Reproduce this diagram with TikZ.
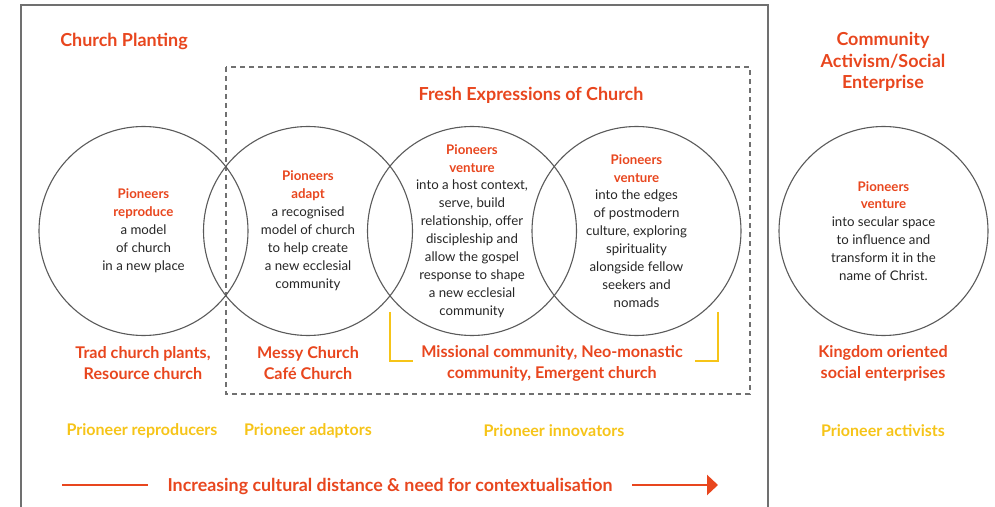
\documentclass[tikz,border=0pt]{standalone}
\usepackage{fontspec}
\setmainfont{Lato}
\usetikzlibrary{arrows.meta, calc}
\definecolor{pioneerred}{HTML}{E8461E}
\definecolor{pioneeryellow}{HTML}{F6C418}
\definecolor{framegray}{HTML}{707070}
\definecolor{circlegray}{HTML}{5A5A5A}
\newcommand{\pio}[1]{\textcolor{pioneerred}{\bfseries #1}}
\tikzset{
  venn/.style={draw=circlegray, line width=1.1bp, circle, minimum size=209bp, inner sep=0pt,
      align=center, font=\fontsize{13.3}{18}\selectfont, text=black!85},
  heading/.style={align=center, font=\fontsize{18}{21.5}\selectfont\bfseries, text=pioneerred},
  example/.style={align=center, font=\fontsize{16.2}{21}\selectfont\bfseries, text=pioneerred},
  role/.style={font=\fontsize{16.1}{17}\selectfont\bfseries, text=pioneeryellow},
  bracket/.style={draw=pioneeryellow, line width=2.5bp},
  distline/.style={draw=pioneerred, line width=2.5bp},
  frame/.style={draw=framegray, line width=1.5bp},
  fresh box/.style={draw=framegray, line width=1.1bp, dash pattern=on 5bp off 4bp},
}

\begin{document}
\begin{tikzpicture}[x=1bp, y=-1bp]
  \useasboundingbox (0,0) rectangle (995,507);
  % frames
  \draw[frame] (21,507) -- (21,5) -- (768,5) -- (768,507);
  \draw[fresh box] (226,67) rectangle (750,394);
  % headings
  \node[heading] (planting) at (124,41) {Church Planting};
  \node[heading] (fresh) at (531,95) {Fresh Expressions of Church};
  \node[heading] (activism) at (883,62) {Community\\Activism/Social\\Enterprise};
  % circles
  \node[venn] (reproduce) at (143.5,231) {\pio{Pioneers}\\\pio{reproduce}\\a model\\of church\\in a new place};
  \node[venn] (adapt) at (308,231) {\pio{Pioneers}\\\pio{adapt}\\a recognised\\model of church\\to help create\\a new ecclesial\\community};
  \node[venn] (host) at (472,231) {\pio{Pioneers}\\\pio{venture}\\into a host context,\\serve, build\\relationship, offer\\discipleship and\\allow the gospel\\response to shape\\a new ecclesial\\community};
  \node[venn] (edges) at (636.5,231) {\pio{Pioneers}\\\pio{venture}\\into the edges\\of postmodern\\culture, exploring\\spirituality\\alongside fellow\\seekers and\\nomads};
  \node[venn] (secular) at (883.5,231) {\pio{Pioneers}\\\pio{venture}\\into secular space\\to influence and\\transform it in the\\name of Christ.};
  % examples
  \node[example] (trad) at (143,363.5) {Trad church plants,\\Resource church};
  \node[example] (messy) at (308,363.5) {Messy Church\\Caf\'e Church};
  \node[example] (missional) at (552,363.5) {Missional community, Neo-monastic\\community, Emergent church};
  \node[example] (kingdom) at (883,363.5) {Kingdom oriented\\social enterprises};
  % brackets
  \draw[bracket] (390,312) -- (390,361) -- (413,361);
  \draw[bracket] (718,312) -- (718,361) -- (695,361);
  % roles
  \node[role] (reproducers) at (142,431) {Prioneer reproducers};
  \node[role] (adaptors) at (308,431) {Prioneer adaptors};
  \node[role] (innovators) at (554,431) {Prioneer innovators};
  \node[role] (activists) at (883,431) {Prioneer activists};
  % distance arrow
  \node[example, font=\fontsize{17.9}{21}\selectfont\bfseries] (dist) at (390,486) {Increasing cultural distance \& need for contextualisation};
  \coordinate (distL) at (62,485);
  \coordinate (distR) at (718,485);
  \draw[distline] (distL) -- (distL -| 148,0);
  \draw[distline, -{Triangle[length=11bp, width=20bp]}] (632,485) -- (distR);
\end{tikzpicture}
\end{document}
